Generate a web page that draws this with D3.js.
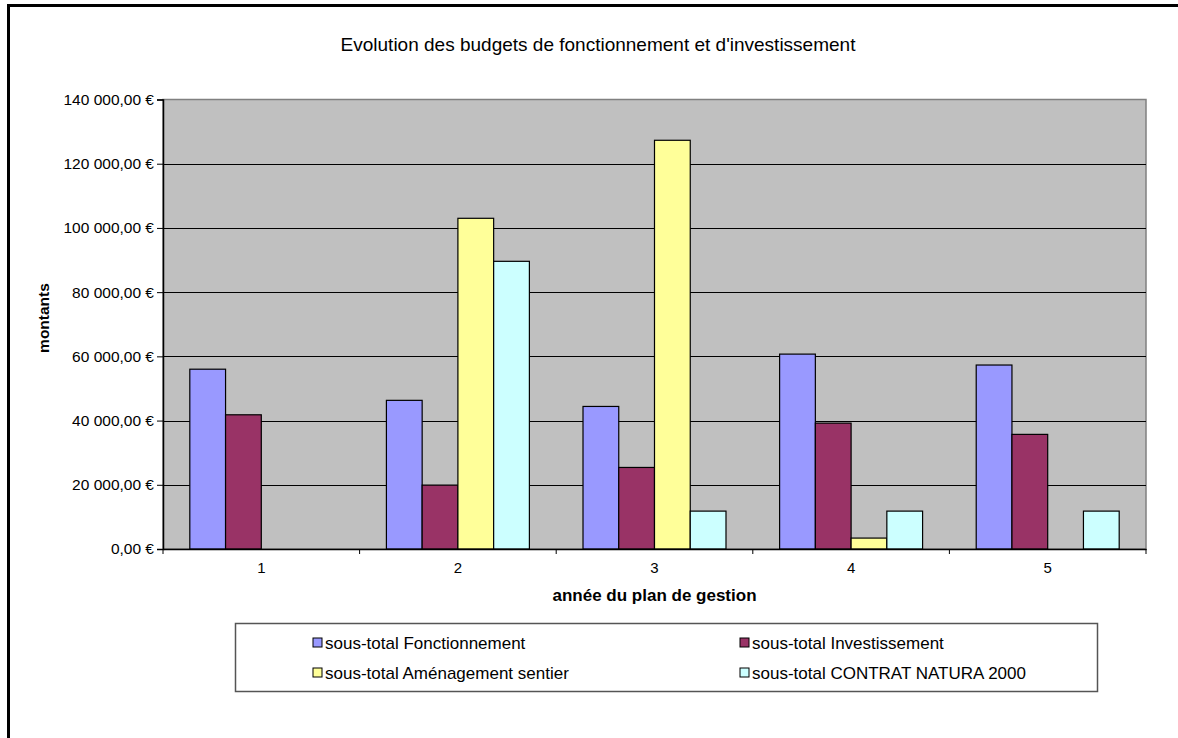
<!DOCTYPE html>
<html><head><meta charset="utf-8">
<script src="https://cdn.jsdelivr.net/npm/d3@7"></script>
<style>body{margin:0;background:#fff}svg{display:block;font-family:"Liberation Sans",Arial,sans-serif}</style>
</head><body><svg id="c" width="1178" height="738"></svg>
<script>
const categories = ["1","2","3","4","5"];
const seriesNames = ["sous-total Fonctionnement","sous-total Investissement","sous-total Aménagement sentier","sous-total CONTRAT NATURA 2000"];
const fonctionnement = [56000, 46300, 44400, 60700, 57300];
const investissement = [41800, 19900, 25400, 39200, 35700];
const amenagement = [0, 103000, 127300, 3400, 0];
const natura = [0, 89600, 11800, 11800, 11800];
const yTicks = [0, 20000, 40000, 60000, 80000, 100000, 120000, 140000];
const colors = ["#9999FF","#993366","#FFFF99","#CCFFFF"];
const title = "Evolution des budgets de fonctionnement et d'investissement";
const xTitle = "année du plan de gestion";
const yTitle = "montants";

const seriesValues = [fonctionnement, investissement, amenagement, natura];
const svg = d3.select("#c");
svg.append("rect").attr("width",1178).attr("height",738).attr("fill","#fff");

// outer frame (top + left)
svg.append("line").attr("x1",8.5).attr("x2",8.5).attr("y1",4).attr("y2",738).attr("stroke","#000").attr("stroke-width",3);
svg.append("line").attr("x1",7).attr("x2",1178).attr("y1",5.5).attr("y2",5.5).attr("stroke","#000").attr("stroke-width",3);

const L=163, R=1146, T=99.5, B=549;
const x = d3.scaleBand().domain(categories).range([L,R]);
const xs = d3.scaleBand().domain(d3.range(seriesNames.length)).range([0,x.bandwidth()]).paddingOuter(0.75);
const y = d3.scaleLinear().domain([0,140000]).range([B,T]);

svg.append("rect").attr("x",L).attr("y",T).attr("width",R-L).attr("height",B-T).attr("fill","#C0C0C0").attr("stroke","#808080").attr("stroke-width",1.5);

// gridlines
svg.append("g").selectAll("line").data(yTicks.filter(v=>v>0 && v<140000)).join("line")
  .attr("x1",L).attr("x2",R).attr("y1",d=>Math.round(y(d))+0.5).attr("y2",d=>Math.round(y(d))+0.5)
  .attr("stroke","#000").attr("stroke-width",1);

// bars
const g = svg.append("g");
categories.forEach((c,i)=>{
  seriesValues.forEach((vals,s)=>{
    const v = vals[i];
    if(v<=0) return;
    g.append("rect").attr("x",x(c)+xs(s)).attr("y",y(v)).attr("width",xs.bandwidth()).attr("height",B-y(v))
      .attr("fill",colors[s]).attr("stroke","#000").attr("stroke-width",1.2);
  });
});

// y axis
const fr = d3.formatLocale({decimal:",",thousands:"\u00a0",grouping:[3],currency:["","\u00a0€"]});
const fmt = fr.format("$,.2f");
const ya = svg.append("g").attr("transform",`translate(${L},0)`)
  .call(d3.axisLeft(y).tickValues(yTicks).tickSize(6).tickPadding(3).tickFormat(fmt));
ya.select(".domain").attr("stroke","#000").attr("stroke-width",1.5);
ya.selectAll(".tick line").attr("stroke","#000");
ya.selectAll("text").attr("font-size",15.5).attr("fill","#000").attr("font-family","Liberation Sans, Arial, sans-serif");

// x axis
const xa = svg.append("g").attr("transform",`translate(0,${B})`)
  .call(d3.axisBottom(x).tickSize(0).tickPadding(13));
xa.select(".domain").attr("stroke","#000").attr("stroke-width",1.5);
xa.selectAll("text").attr("font-size",15).attr("fill","#000").attr("font-family","Liberation Sans, Arial, sans-serif");
svg.append("g").selectAll("line").data(d3.range(categories.length+1)).join("line")
  .attr("x1",i=>L+i*x.step()).attr("x2",i=>L+i*x.step()).attr("y1",B).attr("y2",B+5).attr("stroke","#000");

// titles
svg.append("text").attr("x",598).attr("y",51).attr("text-anchor","middle").attr("font-size",19).text(title);
svg.append("text").attr("x",(L+R)/2).attr("y",601).attr("text-anchor","middle").attr("font-size",17).attr("font-weight","bold").text(xTitle);
svg.append("text").attr("transform",`translate(49,318) rotate(-90)`).attr("text-anchor","middle").attr("font-size",15.5).attr("font-weight","bold").text(yTitle);

// legend
svg.append("rect").attr("x",235.5).attr("y",623.5).attr("width",862).attr("height",68).attr("fill","#fff").attr("stroke","#555").attr("stroke-width",1.5);
const lx=[313,740], ly=[643,673];
seriesNames.forEach((n,i)=>{
  const cx = lx[i%2], cy = ly[Math.floor(i/2)];
  svg.append("rect").attr("x",cx).attr("y",cy-5).attr("width",9).attr("height",9).attr("fill",colors[i]).attr("stroke","#000").attr("stroke-width",1);
  svg.append("text").attr("x",cx+12).attr("y",cy+5.5).attr("font-size",17).text(n);
});
</script></body></html>
